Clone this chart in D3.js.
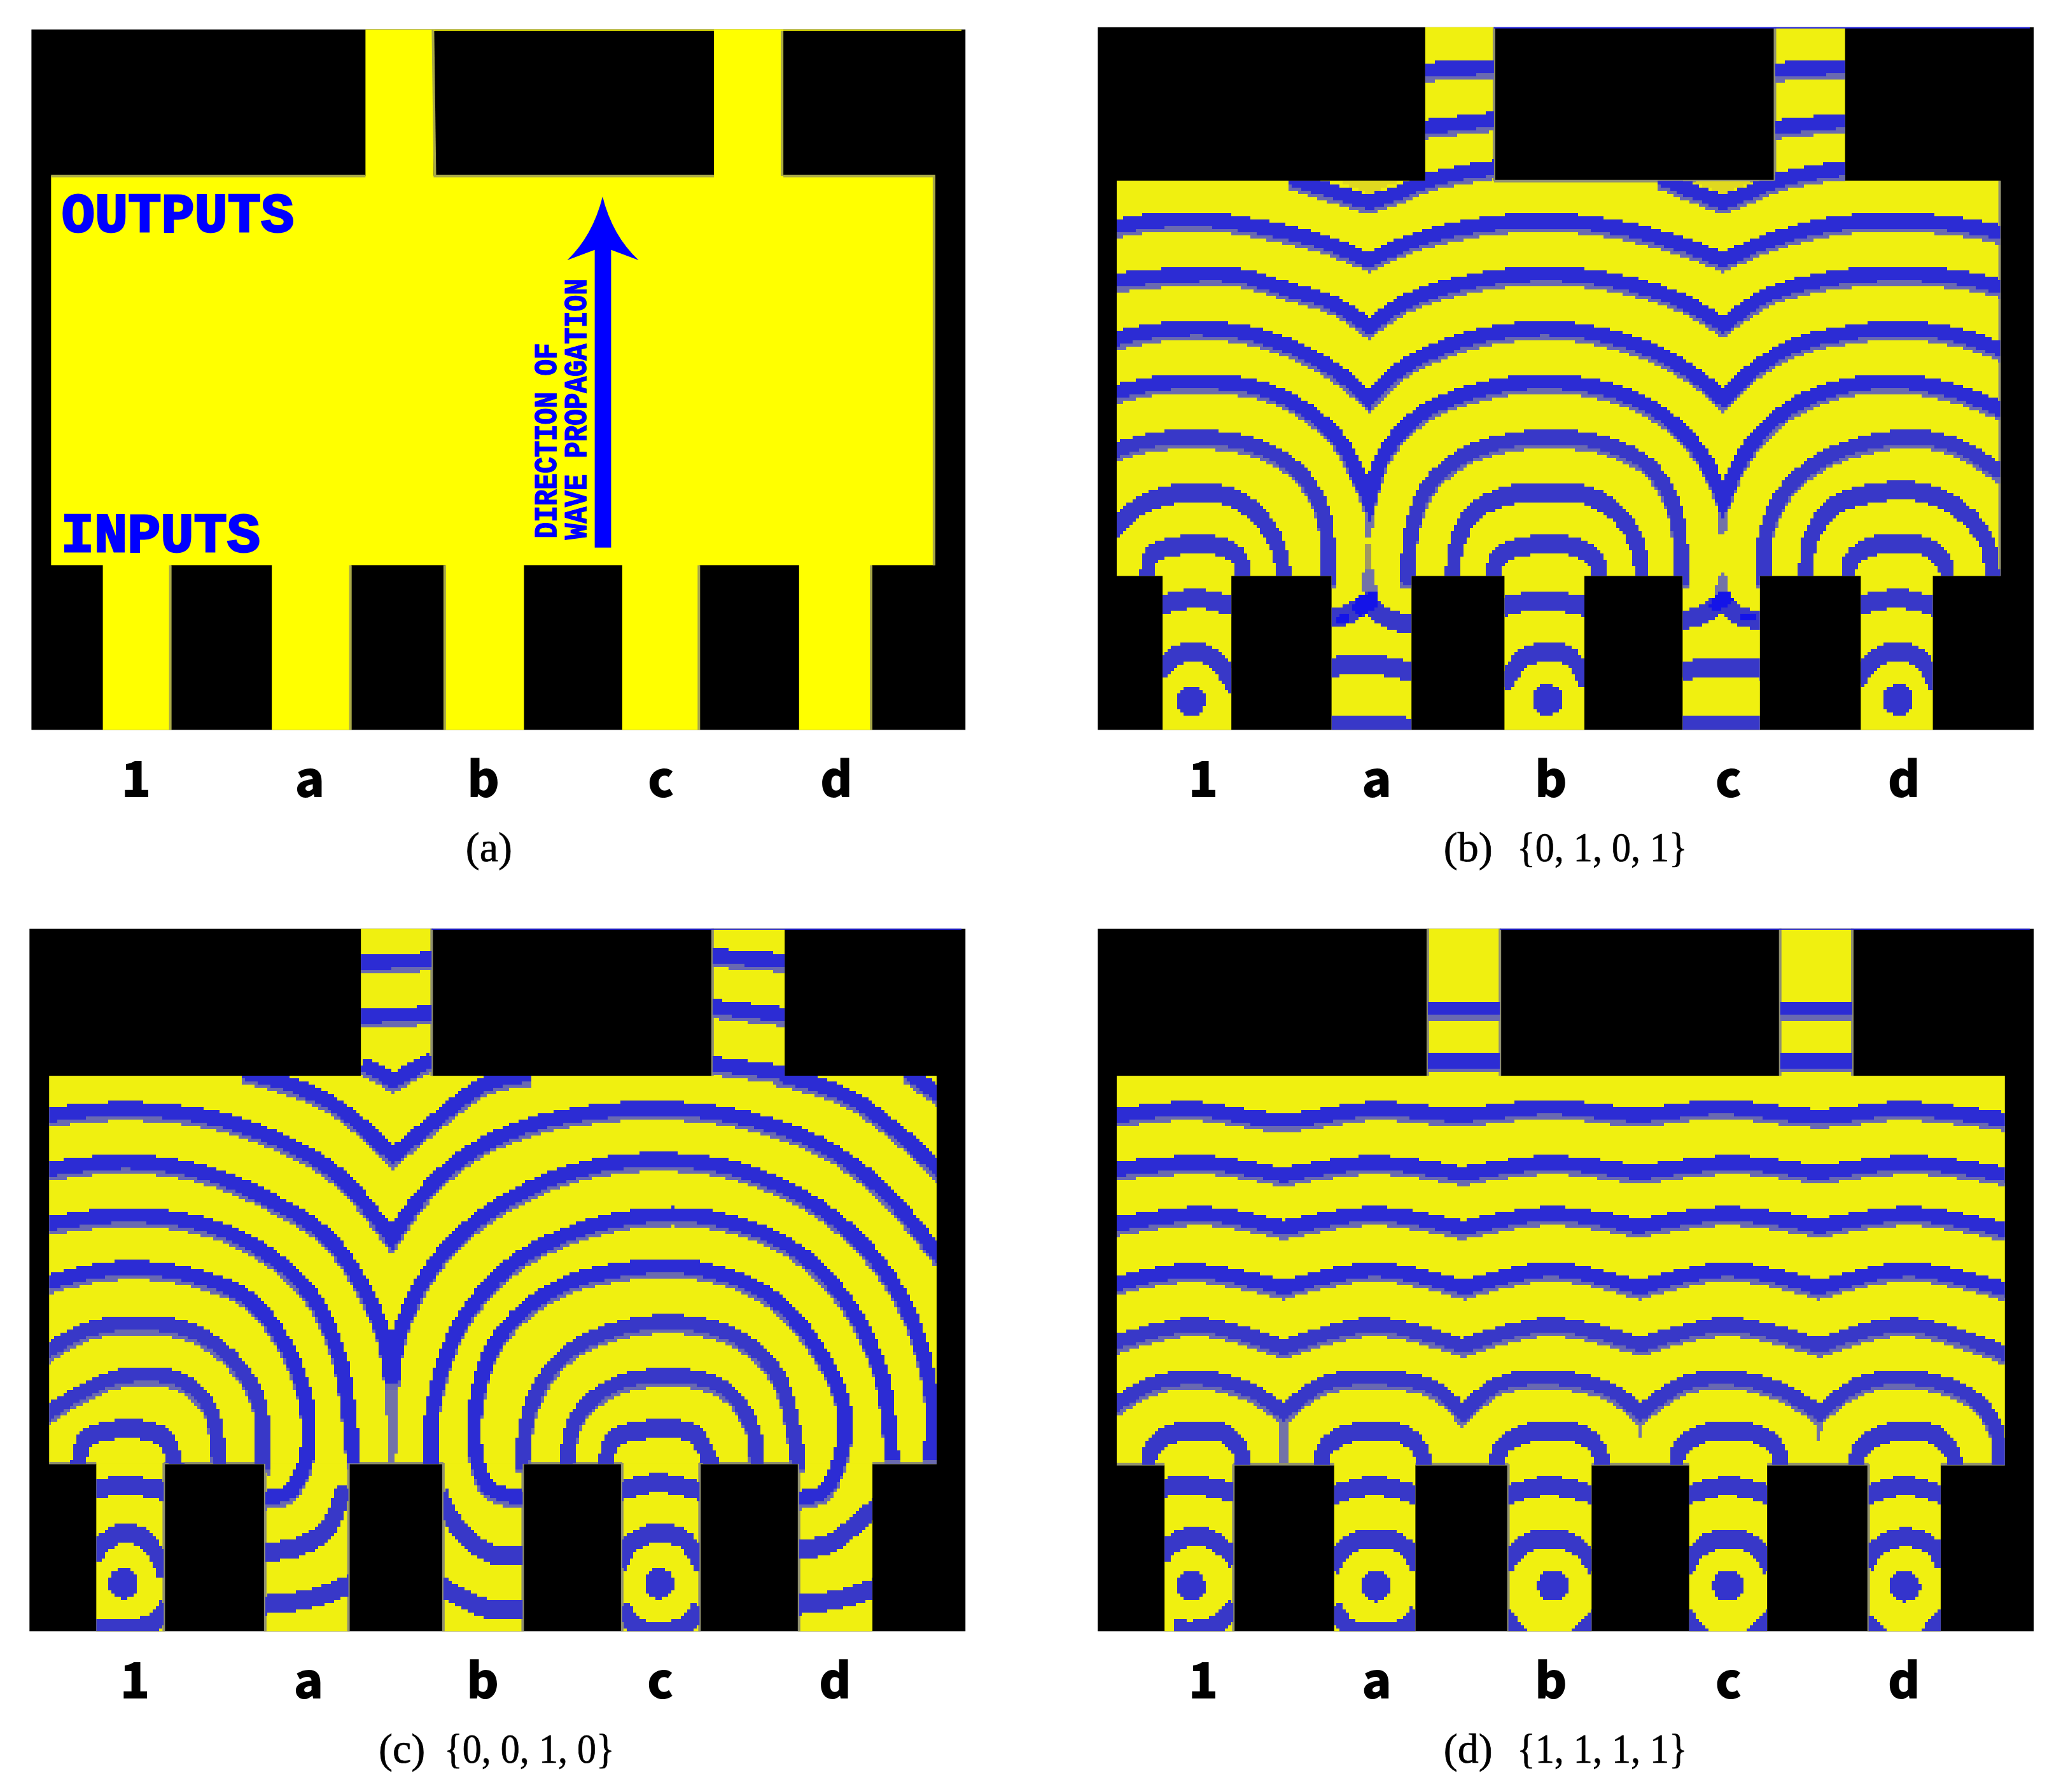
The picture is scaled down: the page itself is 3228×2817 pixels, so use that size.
<!DOCTYPE html>
<html>
<head>
<meta charset="utf-8">
<style>
  html, body { margin: 0; padding: 0; background: #fff; }
  svg { display: block; }
</style>
<script src="https://cdn.jsdelivr.net/npm/d3@7"></script>
</head>
<body>
<div id="chart"></div>
<script>
var inputLabels = ["1", "a", "b", "c", "d"];

var boxA = {left: 48, right: 1474, top: 52, bottom: 1285};
var cavityA = {left: 78, right: 1428, top: 310, bottom: 995};
var outputsA = [[558, 662], [1090, 1196]];
var inputsA = [[157, 261], [415, 536], [680, 800], [950, 1068], [1220, 1331]];
var labelsA = [208, 473, 738, 1009, 1277];
var edgesA = [[661,52,664,310],[1194,52,1194,310],[1426,310,1426,995],[260,995,260,1285],[535,995,535,1285],[679,995,679,1285],[1067,995,1067,1285],[1330,995,1330,1285],[78,310,558,310],[662,310,1090,310],[1196,310,1428,310]];

var boxB = {left: 108, right: 1537, top: 48, bottom: 1285};
var cavityB = {left: 137, right: 1486, top: 318, bottom: 1014};
var outputsB = [[608, 713], [1142, 1249]];
var inputsB = [[207, 312], [465, 587], [729, 851], [1001, 1119], [1273, 1383]];
var labelsB = [269, 534, 800, 1071, 1339];
var edgesB = [[713,48,713,318],[1142,48,1142,318],[713,319,1142,319],[1485,318,1485,1014]];
var dotsB = [[250,1234,23],[795,1232,24],[1330,1232,24]];
var wavesB = [
  [[[400,312],[470,338],[522,356]],[[522,356],[570,338],[610,318],[660,305],[715,295]]],
  [[[965,312],[1020,338],[1062,356]],[[1062,356],[1100,340],[1144,318],[1195,305],[1250,296]]],
  [[[130,400],[200,388],[290,388],[380,405],[450,425],[522,458]],[[522,458],[600,420],[700,395],[800,388],[900,400],[1000,430],[1063,458]],[[1063,458],[1130,425],[1230,395],[1330,388],[1420,395],[1490,410]]],
  [[[130,495],[220,485],[320,485],[400,510],[470,535],[522,575]],[[522,575],[580,530],[680,495],[790,482],[900,495],[1000,530],[1063,572]],[[1063,572],[1130,520],[1230,490],[1340,482],[1430,490],[1490,505]]],
  [[[130,597],[200,582],[270,578],[350,590],[430,625],[480,660],[522,702]],[[522,702],[570,650],[650,605],[720,585],[800,578],[880,590],[960,620],[1020,660],[1063,702]],[[1063,702],[1110,650],[1180,605],[1260,585],[1330,578],[1420,590],[1490,617]]],
  [[[130,692],[200,675],[280,672],[360,685],[430,725],[480,780],[522,880]],[[522,880],[545,800],[600,730],[680,690],[790,672],[900,690],[970,730],[1030,800],[1063,880]],[[1063,880],[1095,800],[1150,730],[1230,685],[1330,672],[1420,690],[1490,722]]],
  [[[130,794],[190,775],[270,770],[350,785],[410,825],[445,880],[458,940],[460,1030]]],
  [[[583,1030],[585,950],[610,860],[670,800],[740,775],[810,770],[880,780],[950,820],[990,900],[1000,1030]]],
  [[[1125,1030],[1128,940],[1160,860],[1220,805],[1300,775],[1370,770],[1430,790],[1490,834]]],
  [[[130,930],[175,885],[230,865],[290,865],[340,890],[380,950],[395,1030]]],
  [[[650,1030],[655,960],[680,900],[730,870],[790,862],[860,870],[910,910],[935,970],[938,1030]]],
  [[[1190,1030],[1195,950],[1230,890],[1290,865],[1360,862],[1420,890],[1465,950],[1475,1030]]],
  [[[185,1030],[190,975],[230,957],[290,957],[325,980],[330,1030]]],
  [[[712,1030],[718,980],[750,960],[840,960],[870,985],[875,1030]]],
  [[[1255,1030],[1258,985],[1290,958],[1370,958],[1400,985],[1405,1030]]],
  [[[200,1062],[260,1050],[320,1065]]],
  [[[200,1180],[225,1152],[255,1143],[285,1155],[320,1210]]],
  [[[725,1065],[790,1052],[855,1065]]],
  [[[728,1205],[755,1158],[795,1143],[830,1153],[856,1200]]],
  [[[1268,1062],[1330,1050],[1390,1065]]],
  [[[1268,1195],[1295,1155],[1330,1143],[1365,1158],[1390,1205]]],
  [[[460,1085],[490,1078],[520,1055]],[[520,1055],[545,1082],[590,1097]]],
  [[[460,1172],[520,1165],[590,1180]]],
  [[[460,1272],[590,1276]]],
  [[[998,1087],[1030,1080],[1060,1055]],[[1060,1055],[1090,1082],[1122,1086]]],
  [[[998,1178],[1060,1170],[1122,1175]]],
  [[[998,1272],[1122,1272]]],
  [[[604,123],[716,117]]],
  [[[604,224],[716,210]]],
  [[[1140,123],[1252,117]]],
  [[[1140,224],[1252,212]]]
];
var spikesB = [[[512,880],[532,880],[527,945],[517,945]],[[514,1000],[530,1000],[534,1040],[510,1040]],[[1052,880],[1072,880],[1067,940],[1057,940]],[[1058,1010],[1066,1010],[1074,1050],[1048,1050]]];
var warmB = [[[475,319],[570,319],[522,342]],[[1015,319],[1110,319],[1062,342]]];
var oliveB = [[[517,960],[527,960],[527,1000],[517,1000]]];
var hotB = [[[496,1075],[505,1048],[535,1042],[535,1068],[510,1085]],[[1040,1070],[1050,1045],[1075,1040],[1078,1060],[1055,1075]],[[1085,1078],[1115,1080],[1115,1095],[1090,1092]],[[470,1085],[490,1082],[490,1095],[470,1098]]];

var boxC = {left: 45, right: 1474, top: 48, bottom: 1285};
var cavityC = {left: 75, right: 1430, top: 307, bottom: 990};
var outputsC = [[551, 659], [1088, 1198]];
var inputsC = [[147, 250], [405, 532], [677, 798], [950, 1068], [1220, 1332]];
var labelsC = [206, 471, 737, 1008, 1275];
var edgesC = [[75,989,147,989],[250,989,405,989],[532,989,677,989],[798,989,950,989],[1068,989,1220,989],[1332,989,1430,989],[250,989,250,1285],[405,989,405,1285],[532,989,532,1285],[677,989,677,1285],[798,989,798,1285],[950,989,950,1285],[1068,989,1068,1285],[1220,989,1220,1285],[1088,48,1088,307],[659,48,659,307]];
var dotsC = [[188,1201,23],[1007,1201,23]];
var wavesC = [
  [[[370,300],[450,325],[520,365],[600,447]],[[600,447],[660,390],[740,322],[810,305]]],
  [[[1190,305],[1290,340],[1370,405],[1440,480]]],
  [[[1385,300],[1440,345]]],
  [[[68,377],[150,367],[230,367],[340,385],[440,428],[520,485],[598,592]],[[598,592],[650,510],[720,440],[800,397],[900,372],[1030,365],[1150,385],[1260,432],[1350,510],[1438,630]]],
  [[[68,472],[200,458],[320,480],[420,530],[500,590],[550,670],[585,760],[598,850]],[[598,850],[608,770],[640,680],[700,590],[800,510],[900,468],[1010,455],[1120,470],[1240,530],[1330,620],[1390,730],[1422,870],[1420,985]]],
  [[[68,568],[200,552],[330,575],[420,630],[480,700],[520,810],[540,990]]],
  [[[660,1000],[660,900],[700,750],[780,640],[880,580],[1000,552],[1100,560],[1210,610],[1290,700],[1345,830],[1362,985]]],
  [[[68,672],[150,650],[210,645],[300,660],[380,700],[440,790],[470,900],[465,990],[440,1040],[400,1050]]],
  [[[800,1050],[750,1035],[730,990],[725,900],[760,770],[850,680],[970,645],[1060,645],[1170,690],[1250,790],[1290,900],[1280,990],[1255,1040],[1215,1050]]],
  [[[68,795],[130,755],[200,742],[290,755],[350,800],[395,880],[400,1000]]],
  [[[797,1000],[810,890],[860,800],[950,750],[1050,742],[1130,770],[1190,840],[1220,1000]]],
  [[[68,905],[130,860],[190,835],[270,840],[320,890],[335,1000]]],
  [[[865,1000],[880,910],[940,850],[1040,835],[1110,860],[1150,930],[1155,1000]]],
  [[[120,1000],[130,945],[190,925],[250,940],[270,1000]]],
  [[[925,1000],[935,945],[1000,925],[1060,935],[1090,1000]]],
  [[[400,1140],[450,1135],[500,1100],[525,1030]]],
  [[[400,1235],[470,1225],[536,1198]]],
  [[[672,1040],[700,1100],[750,1145],[805,1148]]],
  [[[672,1200],[740,1240],[805,1240]]],
  [[[1215,1140],[1270,1125],[1310,1090],[1340,1060]]],
  [[[1215,1235],[1280,1225],[1340,1203]]],
  [[[142,1030],[200,1025],[256,1035]]],
  [[[142,1150],[165,1120],[190,1108],[225,1122],[252,1180]]],
  [[[145,1275],[190,1277],[235,1265],[255,1238]]],
  [[[945,1035],[1005,1020],[1072,1035]]],
  [[[945,1165],[965,1125],[1005,1108],[1045,1120],[1072,1170]]],
  [[[950,1240],[975,1275],[1040,1275],[1068,1240]]],
  [[[546,108],[664,102]]],
  [[[546,202],[664,197]]],
  [[[553,285],[600,315]],[[600,315],[660,278]]],
  [[[1084,95],[1202,105]]],
  [[[1084,185],[1202,200]]],
  [[[1084,285],[1202,302]]]
];
var spikesC = [[[588,860],[609,860],[604,990],[594,990]]];

var boxD = {left: 108, right: 1537, top: 48, bottom: 1285};
var cavityD = {left: 137, right: 1493, top: 307, bottom: 992};
var outputsD = [[612, 722], [1150, 1260]];
var inputsD = [[210, 315], [469, 593], [735, 862], [1011, 1130], [1285, 1395]];
var labelsD = [269, 534, 800, 1071, 1339];
var edgesD = [[612,48,612,307],[722,48,722,307],[1150,48,1150,307],[1260,48,1260,307],[137,991,210,991],[315,991,469,991],[593,991,735,991],[862,991,1011,991],[1130,991,1285,991],[1395,991,1493,991],[315,991,315,1285],[735,991,735,1285],[1285,991,1285,1285]];
var dotsD = [[250,1205,23],[533,1205,24],[803,1205,24],[1071,1205,24],[1340,1205,24]];
var wavesD = [
  [[[130,378],[250,365],[390,385],[530,365],[660,375],[800,362],[935,375],[1060,362],[1210,378],[1340,365],[1500,385]]],
  [[[130,472],[270,460],[390,482]],[[390,482],[530,460],[665,480]],[[665,480],[800,460],[935,478]],[[935,478],[1080,460],[1210,478]],[[1210,478],[1350,460],[1500,482]]],
  [[[130,570],[270,550],[392,575]],[[392,575],[530,550],[665,575]],[[665,575],[800,550],[935,572]],[[935,572],[1070,550],[1210,572]],[[1210,572],[1350,550],[1500,580]]],
  [[[130,675],[250,650],[392,680]],[[392,680],[530,648],[668,680]],[[668,680],[800,648],[935,680]],[[935,680],[1070,648],[1210,680]],[[1210,680],[1345,648],[1500,685]]],
  [[[130,778],[260,745],[392,785]],[[392,785],[530,745],[665,782]],[[665,782],[800,745],[937,780]],[[937,780],[1070,745],[1210,782]],[[1210,782],[1340,745],[1500,798]]],
  [[[130,890],[190,850],[260,838],[340,860],[392,900]],[[392,900],[450,850],[530,838],[620,855],[665,900]],[[665,900],[720,850],[800,838],[890,860],[937,900]],[[937,900],[1000,850],[1070,838],[1150,860],[1210,900]],[[1210,900],[1270,850],[1350,838],[1440,870],[1480,930],[1485,1005]]],
  [[[185,1005],[190,960],[225,932],[300,932],[325,960],[332,1005]]],
  [[[450,1005],[455,960],[495,932],[570,932],[600,960],[610,1005]]],
  [[[718,1005],[723,960],[765,932],[840,932],[872,960],[880,1005]]],
  [[[992,1005],[997,960],[1035,932],[1110,932],[1145,960],[1152,1005]]],
  [[[1267,1005],[1272,960],[1315,932],[1380,932],[1410,960],[1420,1005]]],
  [[[205,1028],[262,1025],[318,1038]]],
  [[[205,1150],[225,1125],[260,1113],[290,1125],[318,1155]]],
  [[[464,1042],[530,1025],[598,1042]]],
  [[[464,1170],[482,1138],[510,1120],[555,1120],[582,1138],[598,1170]]],
  [[[730,1042],[797,1025],[867,1042]]],
  [[[730,1170],[748,1138],[778,1120],[818,1120],[848,1138],[867,1170]]],
  [[[1006,1042],[1071,1025],[1135,1042]]],
  [[[1006,1170],[1024,1138],[1052,1120],[1090,1120],[1118,1138],[1135,1170]]],
  [[[1280,1042],[1340,1025],[1400,1042]]],
  [[[1280,1165],[1298,1135],[1325,1118],[1358,1118],[1385,1135],[1400,1165]]],
  [[[225,1278],[280,1275],[318,1240]]],
  [[[469,1240],[495,1278],[575,1275],[596,1250]]],
  [[[728,1255],[760,1297]]],
  [[[870,1255],[838,1297]]],
  [[[1004,1255],[1036,1297]]],
  [[[1137,1255],[1105,1297]]],
  [[[1280,1265],[1305,1290]]],
  [[[1402,1255],[1368,1297]]],
  [[[606,188],[728,188]]],
  [[[606,282],[728,282]]],
  [[[1146,188],[1264,188]]],
  [[[1146,282],[1264,282]]]
];
var spikesD = [[[382,905],[402,905],[397,990],[387,990]],[[655,905],[675,905],[665,930]],[[926,905],[946,905],[936,942]],[[1200,905],[1220,905],[1209,952]]];

// arrow of panel a: tip, barb, notch, shaft
var arrowTip = [920, 346];
var arrowBarbs = [[866, 458], [975, 458]];
var arrowNotch = [920, 440];
var arrowShaft = [908, 933, 964];

var panelA = {id: "a", ox: 0, oy: 0, box: boxA, cavity: cavityA, outputs: outputsA, inputs: inputsA, labels: labelsA, edges: edgesA, edgeColor: "#a8a848", yellow: "#ffff00", dots: [], waves: [], spikes: [], warm: [], olive: [], hot: [], tag: "(a)", tagX: 711, state: ""};
var panelB = {id: "b", ox: 1614, oy: 0, box: boxB, cavity: cavityB, outputs: outputsB, inputs: inputsB, labels: labelsB, edges: edgesB, edgeColor: "#909070", yellow: "#f0f010", dots: dotsB, waves: wavesB, spikes: spikesB, warm: warmB, olive: oliveB, hot: hotB, tag: "(b)", tagX: 636, state: "{0, 1, 0, 1}", stateX: 748};
var panelC = {id: "c", ox: 0, oy: 1417, box: boxC, cavity: cavityC, outputs: outputsC, inputs: inputsC, labels: labelsC, edges: edgesC, edgeColor: "#909070", yellow: "#f0f010", dots: dotsC, waves: wavesC, spikes: spikesC, warm: [], olive: [], hot: [], tag: "(c)", tagX: 578, state: "{0, 0, 1, 0}", stateX: 678};
var panelD = {id: "d", ox: 1614, oy: 1417, box: boxD, cavity: cavityD, outputs: outputsD, inputs: inputsD, labels: labelsD, edges: edgesD, edgeColor: "#909070", yellow: "#f0f010", dots: dotsD, waves: wavesD, spikes: spikesD, warm: [], olive: [], hot: [], tag: "(d)", tagX: 636, state: "{1, 1, 1, 1}", stateX: 748};

var width = 3228, height = 2817;
var k = 1614 / 1568;
var waveWidth = 23;

var svg = d3.select("#chart").append("svg")
    .attr("width", width)
    .attr("height", height)
    .attr("viewBox", "0,0," + width + "," + height);

// the simulation grid is coarse, waves come out in blocks of ~5px
var pix = svg.append("defs").append("filter")
    .attr("id", "blocks")
    .attr("filterUnits", "userSpaceOnUse")
    .attr("x", 0).attr("y", 0).attr("width", width).attr("height", height)
    .attr("color-interpolation-filters", "sRGB");
pix.append("feFlood").attr("x", 2).attr("y", 2).attr("width", 1).attr("height", 1)
    .attr("flood-color", "#000").attr("result", "seed");
pix.append("feComposite").attr("in", "seed").attr("in2", "seed")
    .attr("x", 0).attr("y", 0).attr("width", 5).attr("height", 5);
pix.append("feTile").attr("result", "grid");
pix.append("feComposite").attr("in", "SourceGraphic").attr("in2", "grid").attr("operator", "in");
pix.append("feMorphology").attr("operator", "dilate").attr("radius", 2);

function rowTop(row){
    return d3.min(row, arch => d3.min(arch, d => d[1]));
}

function drawPanel(p){
    var x = d3.scaleLinear().domain([0, 1568]).range([p.ox, p.ox + 1614]);
    var y = d3.scaleLinear().domain([0, 1568]).range([p.oy, p.oy + 1400]);
    var g = svg.append("g").attr("class", "panel panel-" + p.id);

    g.append("rect").attr("class", "walls")
        .attr("x", x(p.box.left)).attr("y", y(p.box.top))
        .attr("width", x(p.box.right) - x(p.box.left))
        .attr("height", y(p.box.bottom) - y(p.box.top))
        .attr("fill", "#000");

    // yellow channel = cavity + guides, same rects are used as clip for the waves
    var rects = [{x0: p.cavity.left, x1: p.cavity.right, y0: p.cavity.top, y1: p.cavity.bottom}];
    p.outputs.forEach(function(o){ rects.push({x0: o[0], x1: o[1], y0: p.box.top, y1: p.cavity.top + 1}); });
    p.inputs.forEach(function(o){ rects.push({x0: o[0], x1: o[1], y0: p.cavity.bottom - 1, y1: p.box.bottom}); });

    var clipId = "clip-" + p.id;
    var clip = g.append("clipPath").attr("id", clipId);
    function addRects(sel){
        sel.selectAll("rect").data(rects).enter().append("rect")
            .attr("x", d => x(d.x0))
            .attr("y", d => y(d.y0))
            .attr("width", d => x(d.x1) - x(d.x0))
            .attr("height", d => y(d.y1) - y(d.y0));
    }
    addRects(clip);
    addRects(g.append("g").attr("class", "channel").attr("fill", p.yellow));

    g.append("g").attr("class", "edges")
        .selectAll("line").data(p.edges).enter().append("line")
        .attr("x1", d => x(d[0])).attr("y1", d => y(d[1]))
        .attr("x2", d => x(d[2])).attr("y2", d => y(d[3]))
        .attr("stroke", p.edgeColor)
        .attr("stroke-width", 4);

    var inner = g.append("g").attr("clip-path", "url(#" + clipId + ")")
        .append("g").attr("filter", "url(#blocks)");
    var poly = d3.line().x(d => x(d[0])).y(d => y(d[1]));
    function patches(cls, list, color){
        inner.selectAll("path." + cls).data(list).enter().append("path")
            .attr("class", cls)
            .attr("d", d => poly(d) + "Z")
            .attr("fill", color)
            .attr("shape-rendering", "crispEdges");
    }
    patches("warm", p.warm, "#e0d820");
    patches("olive", p.olive, "#a09860");

    // one row can have several arches, joined with a sharp cusp
    var line = d3.line().x(d => x(d[0])).y(d => y(d[1])).curve(d3.curveCatmullRom.alpha(0.5));
    function rowPath(row){
        return row.map(function(arch, i){
            var s = line(arch);
            return i ? s.replace(/^M/, "L") : s;
        }).join("");
    }
    inner.selectAll("path.shadow").data(p.waves).enter().append("path")
        .attr("class", "shadow")
        .attr("d", rowPath)
        .attr("transform", "translate(0,7)")
        .attr("fill", "none")
        .attr("stroke", d => rowTop(d) < 840 ? "#6a6ab0" : "#3838c8")
        .attr("stroke-width", waveWidth)
        .attr("stroke-miterlimit", 8)
        .attr("shape-rendering", "crispEdges");
    patches("spike", p.spikes, "#7272a8");
    inner.selectAll("path.wave").data(p.waves).enter().append("path")
        .attr("class", "wave")
        .attr("d", rowPath)
        .attr("fill", "none")
        .attr("stroke", d => rowTop(d) < 720 ? "#2c2cd4" : "#3838c8")
        .attr("stroke-width", waveWidth)
        .attr("stroke-miterlimit", 8)
        .attr("shape-rendering", "crispEdges");
    patches("hot", p.hot, "#1414e8");
    inner.selectAll("circle").data(p.dots).enter().append("circle")
        .attr("cx", d => x(d[0]))
        .attr("cy", d => y(d[1]))
        .attr("r", d => d[2] * k)
        .attr("fill", "#3434cc")
        .attr("shape-rendering", "crispEdges");

    g.append("line")
        .attr("x1", x(p.outputs[0][1])).attr("x2", x(p.box.right - 6))
        .attr("y1", y(p.box.top) + 1).attr("y2", y(p.box.top) + 1)
        .attr("stroke", p.id == "a" ? p.yellow : "#2020e0")
        .attr("stroke-width", 2);

    g.selectAll("text.input").data(inputLabels).enter().append("text")
        .attr("class", "input")
        .attr("x", (d, i) => x(p.labels[i]))
        .attr("y", y(1403))
        .attr("text-anchor", "middle")
        .attr("font-family", "'Noto Sans CJK SC', 'Noto Sans'")
        .attr("font-weight", 900)
        .attr("font-size", 78)
        .attr("fill", "#000")
        .text(d => d);

    g.append("text").attr("class", "tag")
        .attr("x", x(p.tagX)).attr("y", y(1517))
        .attr("font-family", "'Liberation Serif'")
        .attr("font-size", 66)
        .attr("fill", "#000")
        .attr("stroke", "#000")
        .attr("stroke-width", 0.7)
        .text(p.tag);
    if (p.state){
        g.append("text").attr("class", "state")
            .attr("x", x(p.stateX)).attr("y", y(1517))
            .attr("font-family", "'Liberation Serif'")
            .attr("font-size", 66)
            .attr("fill", "#000")
            .attr("stroke", "#000")
            .attr("stroke-width", 0.7)
            .attr("textLength", 268)
            .attr("lengthAdjust", "spacingAndGlyphs")
            .text(p.state);
    }
    return {x: x, y: y, g: g};
}

var a = drawPanel(panelA);
drawPanel(panelB);
drawPanel(panelC);
drawPanel(panelD);

// annotations of panel a
[["OUTPUTS", 94, 408], ["INPUTS", 93, 971]].forEach(function(t){
    a.g.append("text")
        .attr("x", a.x(t[1])).attr("y", a.y(t[2]))
        .attr("font-family", "'Liberation Mono'")
        .attr("font-weight", "bold")
        .attr("font-size", 87)
        .attr("fill", "#0000ff")
        .attr("stroke", "#0000ff")
        .attr("stroke-width", 3)
        .text(t[0]);
});
[["DIRECTION OF", 849, 948, 307], ["WAVE PROPAGATION", 895, 950, 410]].forEach(function(t){
    a.g.append("text")
        .attr("transform", "translate(" + a.x(t[1]) + "," + a.y(t[2]) + ") rotate(-90)")
        .attr("font-family", "'Liberation Mono'")
        .attr("font-weight", "bold")
        .attr("font-size", 50)
        .attr("fill", "#0000ff")
        .attr("stroke", "#0000ff")
        .attr("stroke-width", 1.5)
        .attr("textLength", t[3])
        .attr("lengthAdjust", "spacingAndGlyphs")
        .text(t[0]);
});
var ap = d3.path();
ap.moveTo(a.x(arrowShaft[0]), a.y(arrowShaft[2]));
ap.lineTo(a.x(arrowShaft[0]), a.y(arrowNotch[1]));
ap.lineTo(a.x(arrowBarbs[0][0]), a.y(arrowBarbs[0][1]));
ap.quadraticCurveTo(a.x(905), a.y(415), a.x(arrowTip[0]), a.y(arrowTip[1]));
ap.quadraticCurveTo(a.x(935), a.y(415), a.x(arrowBarbs[1][0]), a.y(arrowBarbs[1][1]));
ap.lineTo(a.x(arrowShaft[1]), a.y(arrowNotch[1]));
ap.lineTo(a.x(arrowShaft[1]), a.y(arrowShaft[2]));
ap.closePath();
a.g.append("path").attr("class", "arrow").attr("d", ap.toString()).attr("fill", "#0000ff");
</script>
</body>
</html>
